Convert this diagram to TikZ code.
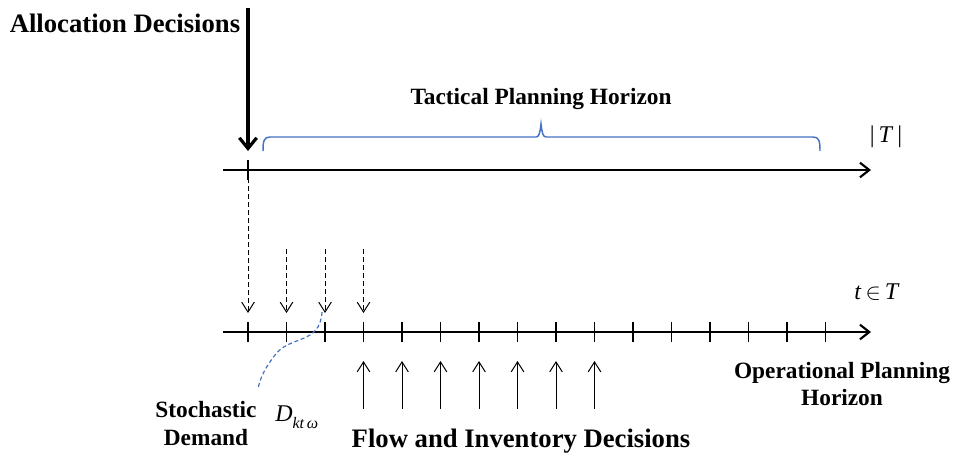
\documentclass[tikz,border=0pt]{standalone}
\usepackage{fontspec}
\setmainfont{Liberation Serif}
\usetikzlibrary{arrows.meta}
\definecolor{braceblue}{RGB}{68,114,196}
\begin{document}
\begin{tikzpicture}[x=0.75pt,y=-0.75pt,
  axis/.style={line width=1.6pt,-{Straight Barb[length=7pt,width=11pt,line width=1.6pt]}},
  tickline/.style={line width=0.8pt},
  bigarrow/.style={line width=2.4pt,-{Straight Barb[length=8pt,width=13pt,line width=2.4pt]}},
  dasharrow/.style={line width=0.75pt,dashed,dash pattern=on 3.5pt off 2.5pt,-{Straight Barb[length=7.5pt,width=9.5pt,line width=0.75pt]}},
  uparrow/.style={line width=0.75pt,-{Straight Barb[length=7.5pt,width=9.5pt,line width=0.75pt]}},
  bracepath/.style={braceblue,line width=1.1pt},
  demandcurve/.style={braceblue,line width=0.9pt,dash pattern=on 3pt off 2pt},
  lbl/.style={inner sep=0pt,anchor=base,font=\bfseries\fontsize{17.5pt}{21pt}\selectfont,align=center},
  biglbl/.style={inner sep=0pt,anchor=base,font=\bfseries\fontsize{20pt}{24pt}\selectfont},
  mathlbl/.style={inner sep=0pt,anchor=base,font=\fontsize{18pt}{21pt}\selectfont}
]
\useasboundingbox (0,0) rectangle (955,457);

% top axis
\coordinate (topstart) at (223,170);
\coordinate (topend) at (871,170);
\draw[axis] (topstart) -- (topend);
\coordinate (t0top) at (248,160);
\coordinate (t0bot) at (248,180);
\draw[tickline] (t0top) -- (t0bot);

% allocation decisions
\node[biglbl] (alloc) at (125,32) {Allocation Decisions};
\coordinate (allocstart) at (248,8);
\coordinate (allocend) at (248,151);
\draw[bigarrow] (allocstart) -- (allocend);

% tactical brace
\node[lbl] (tactical) at (541,104) {Tactical Planning Horizon};
\coordinate (brL) at (263,151);
\coordinate (brR) at (820,151);
\coordinate (brM) at (541,124);
\draw[bracepath] (brL) .. controls (263,141) and (264,137) .. (270,137)
  -- (536,137) .. controls (539,137) and (540,133) .. (brM)
  .. controls (542,133) and (543,137) .. (546,137)
  -- (813,137) .. controls (819,137) and (820,141) .. (brR);
\node[mathlbl] (Tabs) at (886,142) {|\,\textit{T}\,|};

% bottom axis
\coordinate (botstart) at (223,332);
\coordinate (botend) at (871,332);
\draw[axis] (botstart) -- (botend);
\foreach \k in {0,...,15} {
  \coordinate (tk\k) at ({248+38.5*\k},332);
  \draw[tickline] ([yshift=-10*0.75pt]tk\k) -- ([yshift=10*0.75pt]tk\k);
}
\node[mathlbl] (tinT) at (877,299) {\textit{t}\,$\in$\,\textit{T}};

% dashed arrows (demand realisations)
\coordinate (d0s) at (248,178);
\coordinate (d0e) at (248,313);
\draw[dasharrow] (d0s) -- (d0e);
\foreach \k in {1,2,3} {
  \coordinate (ds\k) at ({248+38.5*\k},249);
  \coordinate (de\k) at ({248+38.5*\k},313);
  \draw[dasharrow] (ds\k) -- (de\k);
}

% up arrows (flow and inventory decisions)
\foreach \k in {3,...,9} {
  \coordinate (us\k) at ({248+38.5*\k},409);
  \coordinate (ue\k) at ({248+38.5*\k},361);
  \draw[uparrow] (us\k) -- (ue\k);
}

% stochastic demand
\node[lbl] (stoch) at (206,417) {Stochastic};
\node[lbl] (demand) at (206,445) {Demand};
\node[inner sep=0pt,anchor=base west,font=\fontsize{18pt}{21pt}\selectfont] (Dktw) at (275,421) {\textit{D}\raisebox{-0.3em}{\fontsize{12pt}{14pt}\selectfont\textit{kt\,ω}}};
\coordinate (cvA) at (322,312);
\coordinate (cvB) at (258,389);
\draw[demandcurve] (cvA) .. controls (320,345) and (290,335) .. (275,355) .. controls (265,368) and (260,378) .. (cvB);

% flow and inventory
\node[biglbl] (flow) at (521,447) {Flow and Inventory Decisions};

% operational planning horizon
\node[lbl] (oper1) at (842,378) {Operational Planning};
\node[lbl] (oper2) at (842,405) {Horizon};
\end{tikzpicture}
\end{document}
